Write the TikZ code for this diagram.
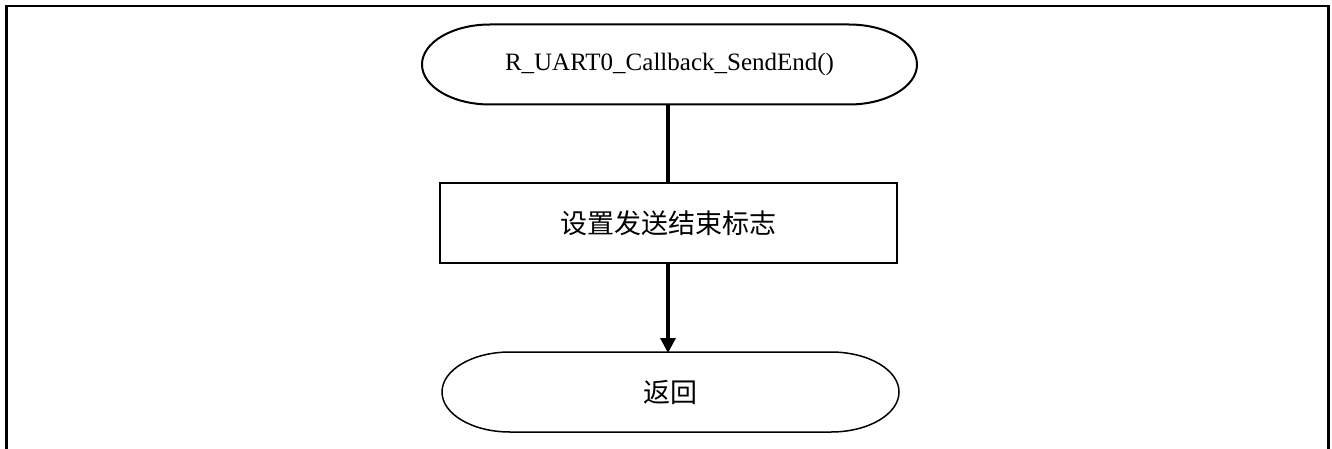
\documentclass[tikz,border=0pt]{standalone}
\usepackage{fontspec}
\setmainfont{Liberation Serif}
\newfontfamily\cjk{Noto Sans CJK SC}
\usetikzlibrary{arrows.meta}
\tikzset{
  x=1pt, y=1pt,
  frameline/.style={line width=2.6pt, black},
  termnode/.style={draw=none, inner sep=0pt, outer sep=0pt, minimum width=495pt, minimum height=80pt, font=\fontsize{25}{30}\selectfont},
  termline/.style={line width=2pt, black},
  procbox/.style={draw, line width=2pt, inner sep=0pt, outer sep=0pt, minimum width=457pt, minimum height=79pt, font=\cjk\fontsize{27}{32}\selectfont},
  conn/.style={line width=3.2pt, black},
  arrowconn/.style={conn, -{Triangle[length=15pt, width=15pt]}, shorten >=-1pt}
}
\newcommand{\stadium}[2]{%
  \draw[termline, #2] ([xshift=68pt]#1.north west) -- ([xshift=-68pt]#1.north east)
    arc[start angle=90, end angle=-90, x radius=68pt, y radius=40pt]
    -- ([xshift=68pt]#1.south west)
    arc[start angle=270, end angle=90, x radius=68pt, y radius=40pt] -- cycle;}
\begin{document}
\begin{tikzpicture}
\useasboundingbox (0,0) rectangle (1332,-449);
\draw[frameline] (6.5,-449) -- (6.5,-6) -- (1328.5,-6) -- (1328.5,-449);
\node[termnode] (start) at (669.5,-64.5) {R\_UART0\_Callback\_SendEnd()\hspace{22pt}};
\stadium{start}{}
\node[procbox] (setflag) at (668,-223) {设置发送结束标志};
\node[termnode, minimum width=457pt, font=\cjk\fontsize{27}{32}\selectfont] (ret) at (670.5,-392) {返回};
\stadium{ret}{line width=1.5pt}
\draw[conn] (start.south -| setflag.north) -- (setflag.north);
\draw[arrowconn] (setflag.south) -- (ret.north -| setflag.south);
\end{tikzpicture}
\end{document}
